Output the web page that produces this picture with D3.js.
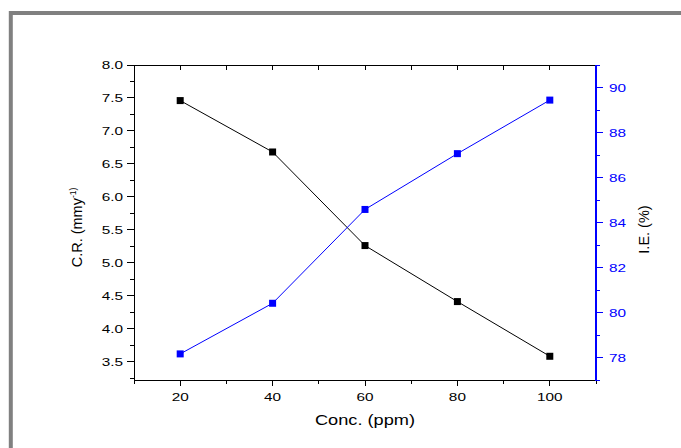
<!DOCTYPE html>
<html>
<head>
<meta charset="utf-8">
<script src="https://cdn.jsdelivr.net/npm/d3@7"></script>
<style>
  body { margin: 0; background: #fff; }
  text { font-family: "Liberation Sans", Arial, sans-serif; }
</style>
</head>
<body>
<div id="chart"></div>
<script>
// data
const conc = [20, 40, 60, 80, 100];
const corrosionRate = [7.46, 6.68, 5.26, 4.41, 3.58];
const inhibitionEff = [78.16, 80.41, 84.58, 87.06, 89.44];

const xMajorTicks = [20, 40, 60, 80, 100];
const xMinorTicks = [10, 30, 50, 70, 90, 110];
const leftMajorTicks = [3.5, 4.0, 4.5, 5.0, 5.5, 6.0, 6.5, 7.0, 7.5, 8.0];
const leftMinorTicks = [3.25, 3.75, 4.25, 4.75, 5.25, 5.75, 6.25, 6.75, 7.25, 7.75];
const rightMajorTicks = [78, 80, 82, 84, 86, 88, 90];
const rightMinorTicks = [77, 79, 81, 83, 85, 87, 89, 91];

const width = 681;
const height = 448;
const pLeft = 134, pRight = 596, pTop = 65, pBottom = 380;
const blue = "#0000ff";
const stretch = 1.3; // the text in the picture is wide

const x = d3.scaleLinear().domain([10, 110]).range([pLeft, pRight]);
const yL = d3.scaleLinear().domain([3.22, 8.0]).range([pBottom, pTop]);
const yR = d3.scaleLinear().domain([77, 91]).range([pBottom, pTop]);

const svg = d3.select("#chart").append("svg")
  .attr("width", width)
  .attr("height", height);

// grey frame round the whole figure
svg.append("rect")
  .attr("x", 10.8).attr("y", 13)
  .attr("width", 700).attr("height", 470)
  .attr("fill", "none")
  .attr("stroke", "#808080")
  .attr("stroke-width", 4);

// text helper, stretched sideways
function label(g, px, py, txt, anchor, size, color, sx) {
  return g.append("text")
    .attr("transform", `translate(${px},${py}) scale(${sx},1)`)
    .attr("text-anchor", anchor)
    .attr("font-size", size)
    .attr("fill", color)
    .text(txt);
}

const axes = svg.append("g").attr("shape-rendering", "crispEdges");

// bottom axis
axes.append("line").attr("x1", pLeft).attr("x2", pRight).attr("y1", pBottom).attr("y2", pBottom)
  .attr("stroke", "#000");
axes.selectAll(".xmaj").data(xMajorTicks).join("line")
  .attr("x1", d => x(d)).attr("x2", d => x(d)).attr("y1", pBottom).attr("y2", pBottom + 6)
  .attr("stroke", "#000");
axes.selectAll(".xmin").data(xMinorTicks).join("line")
  .attr("x1", d => x(d)).attr("x2", d => x(d)).attr("y1", pBottom).attr("y2", pBottom + 3.5)
  .attr("stroke", "#000");
xMajorTicks.forEach(d => label(svg, x(d), pBottom + 21, d, "middle", 11.8, "#000", stretch));
label(svg, (pLeft + pRight) / 2, pBottom + 45, "Conc. (ppm)", "middle", 14, "#000", stretch);

// top axis, ticks pointing in
axes.append("line").attr("x1", pLeft).attr("x2", pRight).attr("y1", pTop).attr("y2", pTop)
  .attr("stroke", "#000");
axes.selectAll(".xtop").data(xMajorTicks.concat(xMinorTicks.slice(0, 5))).join("line")
  .attr("x1", d => x(d)).attr("x2", d => x(d)).attr("y1", pTop).attr("y2", pTop + 5)
  .attr("stroke", "#000");

// left axis
axes.append("line").attr("x1", pLeft).attr("x2", pLeft).attr("y1", pTop).attr("y2", pBottom)
  .attr("stroke", "#000");
axes.selectAll(".lmaj").data(leftMajorTicks).join("line")
  .attr("x1", pLeft - 7).attr("x2", pLeft).attr("y1", d => yL(d)).attr("y2", d => yL(d))
  .attr("stroke", "#000");
axes.selectAll(".lmin").data(leftMinorTicks).join("line")
  .attr("x1", pLeft - 4).attr("x2", pLeft).attr("y1", d => yL(d)).attr("y2", d => yL(d))
  .attr("stroke", "#000");
leftMajorTicks.forEach(d => label(svg, pLeft - 11, yL(d) + 4, d3.format(".1f")(d), "end", 11.8, "#000", stretch));

const lt = svg.append("text")
  .attr("transform", `translate(82,${(pTop + pBottom) / 2 + 5}) rotate(-90)`)
  .attr("text-anchor", "middle")
  .attr("font-size", 14.5)
  .attr("fill", "#000");
lt.append("tspan").text("C.R. (mmy");
lt.append("tspan").attr("font-size", 8.5).attr("dy", -6).text("-1)");

// right axis, blue
svg.append("line").attr("x1", pRight).attr("x2", pRight).attr("y1", pTop).attr("y2", pBottom + 1)
  .attr("stroke", blue).attr("stroke-width", 2);
axes.selectAll(".rmaj").data(rightMajorTicks).join("line")
  .attr("x1", pRight).attr("x2", pRight + 7).attr("y1", d => yR(d)).attr("y2", d => yR(d))
  .attr("stroke", blue);
axes.selectAll(".rmin").data(rightMinorTicks).join("line")
  .attr("x1", pRight).attr("x2", pRight + 4).attr("y1", d => yR(d)).attr("y2", d => yR(d))
  .attr("stroke", blue);
rightMajorTicks.forEach(d => label(svg, pRight + 13, yR(d) + 4, d, "start", 11.8, blue, stretch));

svg.append("text")
  .attr("transform", `translate(649,${(pTop + pBottom) / 2 + 7}) rotate(-90)`)
  .attr("text-anchor", "middle")
  .attr("font-size", 14.5)
  .attr("fill", "#000")
  .text("I.E. (%)");

// series
const black = conc.map((c, i) => [c, corrosionRate[i]]);
const blueS = conc.map((c, i) => [c, inhibitionEff[i]]);

svg.append("path").datum(black)
  .attr("d", d3.line().x(d => x(d[0])).y(d => yL(d[1])))
  .attr("fill", "none").attr("stroke", "#000").attr("stroke-width", 1);
svg.append("path").datum(blueS)
  .attr("d", d3.line().x(d => x(d[0])).y(d => yR(d[1])))
  .attr("fill", "none").attr("stroke", blue).attr("stroke-width", 1);

svg.selectAll(".mk1").data(black).join("rect")
  .attr("x", d => x(d[0]) - 3.5).attr("y", d => yL(d[1]) - 3.5)
  .attr("width", 7).attr("height", 7).attr("fill", "#000");
svg.selectAll(".mk2").data(blueS).join("rect")
  .attr("x", d => x(d[0]) - 3.5).attr("y", d => yR(d[1]) - 3.5)
  .attr("width", 7).attr("height", 7).attr("fill", blue);
</script>
</body>
</html>
